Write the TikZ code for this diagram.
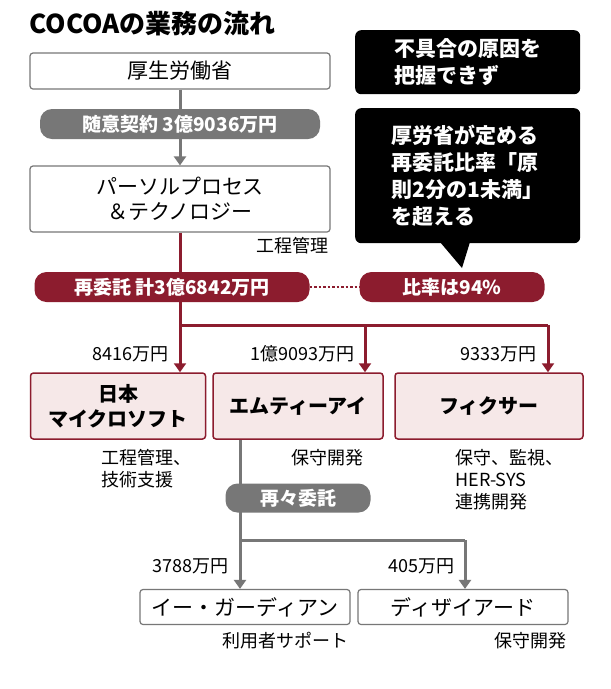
\documentclass[tikz,border=0pt]{standalone}
\usepackage{fontspec}
\setmainfont{Noto Sans CJK JP}
\usetikzlibrary{arrows.meta,shapes.callouts}
\definecolor{dred}{HTML}{8C1C2E}
\definecolor{pinkf}{HTML}{F6E8E8}
\definecolor{gline}{HTML}{777777}
\begin{document}
\begin{tikzpicture}[x=1pt,y=-1pt,
 wbox/.style={draw=gline,line width=1.2pt,fill=white,rounded corners=3pt,align=center,font=\fontsize{21}{25}\selectfont},
 rbox/.style={draw=dred,line width=1.5pt,fill=pinkf,rounded corners=3pt,align=center,font=\bfseries\fontsize{20}{25}\selectfont},
 gpill/.style={fill=gline,text=white,rounded corners=12pt,font=\bfseries\fontsize{19}{21}\selectfont},
 rpill/.style={fill=dred,text=white,rounded corners=12pt,font=\bfseries\fontsize{19}{21}\selectfont},
 blk/.style={fill=black,text=white,rounded corners=6pt,align=left,font=\bfseries\fontsize{21}{27}\selectfont},
 lab/.style={font=\fontsize{18}{22}\selectfont,align=left},
 mlab/.style={font=\fontsize{18}{22}\selectfont},
 glin/.style={gline,line width=3pt},
 rlin/.style={dred,line width=3pt},
 garr/.style={glin,-{Triangle[length=9pt,width=12pt]}},
 rarr/.style={rlin,-{Triangle[length=9pt,width=12pt]}}]
\useasboundingbox[fill=white] (0,0) rectangle (611,689);
\node[anchor=west,font=\bfseries\fontsize{26}{28}\selectfont] (title) at (26,24) {COCOAの業務の流れ};
% top chain
\node[wbox,minimum width=300pt,minimum height=36pt] (mhlw) at (180,71) {厚生労働省};
\node[wbox,minimum width=300pt,minimum height=66pt] (pt) at (180,199) {パーソルプロセス\\＆テクノロジー};
\draw[garr] (mhlw.south) -- (pt.north);
\node[gpill,minimum width=280pt,minimum height=30pt] (zui) at (180,124) {随意契約 3億9036万円};
\node[lab,anchor=east] (kt) at (332,246) {工程管理};
% red branch
\coordinate (rj) at (180,325);
\coordinate (rm) at (365,325);
\coordinate (rr) at (548,325);
\node[rbox,minimum width=175pt,minimum height=66pt] (ms) at (118,406) {日本\\マイクロソフト};
\node[rbox,minimum width=170pt,minimum height=66pt] (mti) at (298,406) {エムティーアイ};
\node[rbox,minimum width=188pt,minimum height=66pt] (fx) at (489,406) {フィクサー};
\draw[rlin] (pt.south) -- (rj);
\draw[rlin] (rj) -- (rr);
\draw[rarr] (rj) -- (ms.north -| rj);
\draw[rarr] (rm) -- (mti.north -| rm);
\draw[rarr] (rr) -- (fx.north -| rr);
\node[rpill,minimum width=275pt,minimum height=30pt] (sai) at (172,287) {再委託 計3億6842万円};
\node[rpill,minimum width=185pt,minimum height=30pt] (hi) at (452,287) {比率は94\%};
\draw[dred,line width=2.5pt,dotted] (sai.east) -- (hi.west);
\node[mlab,anchor=east] (m1) at (172,354) {8416万円};
\node[mlab,anchor=east] (m2) at (358,354) {1億9093万円};
\node[mlab,anchor=east] (m3) at (540,354) {9333万円};
\node[lab,anchor=north west] (d1) at (98,446) {工程管理、\\技術支援};
\node[lab,anchor=north west] (d2) at (288,446) {保守開発};
\node[lab,anchor=north west] (d3) at (452,446) {保守、監視、\\HER-SYS\\連携開発};
% callouts
\node[blk,minimum width=225pt,minimum height=64pt,anchor=north west,inner xsep=12pt] (c1) at (355,30) {不具合の原因を\\把握できず};
\node[blk,minimum width=225pt,minimum height=135pt,anchor=north west,inner xsep=12pt] (c2) at (355,108) {厚労省が定める\\再委託比率「原\\則2分の1未満」\\を超える};
\fill[black] (440,242) -- (462,268) -- (470,242) -- cycle;
% gray sub-branch
\coordinate (gj) at (240,540);
\coordinate (gr) at (465,540);
\node[wbox,minimum width=210pt,minimum height=35pt] (eg) at (245,607) {イー・ガーディアン};
\node[wbox,minimum width=210pt,minimum height=35pt] (ds) at (463,607) {ディザイアード};
\draw[glin] (mti.south -| gj) -- (gj) -- (gr);
\draw[garr] (gj) -- (eg.north -| gj);
\draw[garr] (gr) -- (ds.north -| gr);
\node[gpill,minimum width=145pt,minimum height=29pt] (ss) at (298,498) {再々委託};
\node[mlab,anchor=east] (m4) at (232,566) {3788万円};
\node[mlab,anchor=east] (m5) at (458,566) {405万円};
\node[lab,anchor=east] (d4) at (352,641) {利用者サポート};
\node[lab,anchor=east] (d5) at (570,641) {保守開発};
\end{tikzpicture}
\end{document}
